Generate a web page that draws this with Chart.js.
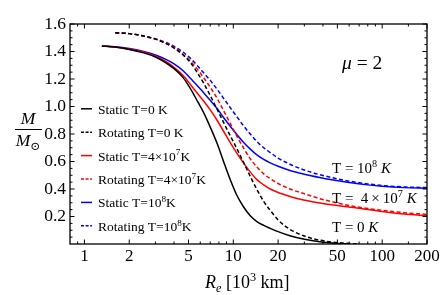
<!DOCTYPE html>
<html>
<head>
<meta charset="utf-8">
<script src="https://cdn.jsdelivr.net/npm/chart.js@4.4.1/dist/chart.umd.min.js"></script>
<style>
html,body{margin:0;padding:0;background:#fff;}
#wrap{width:443px;height:295px;position:relative;}
</style>
</head>
<body>
<div id="wrap"><canvas id="c" width="443" height="295"></canvas></div>
<script>
// ---- data ----
const xTicks = [1, 2, 5, 10, 20, 50, 100, 200];
const xMinorTicks = [0.9, 3, 4, 6, 7, 8, 9, 30, 40, 60, 70, 80, 90, 150];
const yTicks = [0.2, 0.4, 0.6, 0.8, 1.0, 1.2, 1.4, 1.6];
const yMinorTicks = [0.05,0.1,0.15,0.25,0.3,0.35,0.45,0.5,0.55,0.65,0.7,0.75,0.85,0.9,0.95,1.05,1.1,1.15,1.25,1.3,1.35,1.45,1.5,1.55];

const seriesLabels = ["Static T=0 K", "Rotating T=0 K", "Static T=4×10^7K", "Rotating T=4×10^7K", "Static T=10^8K", "Rotating T=10^8K"];

const rStaticT0 = [1.31,1.6,2,2.5,3,3.5,4,4.6,5.15,5.7,6.32,7,7.78,8.6,9.56,10.5,11.7,13,14.4,16,17.7,20,24,30,38,48,60];
const mStaticT0 = [1.44,1.432,1.415,1.39,1.36,1.32,1.275,1.21,1.13,1.045,0.955,0.85,0.732,0.60,0.465,0.36,0.271,0.205,0.162,0.135,0.114,0.09,0.06,0.035,0.017,0.006,0.0];

const rRotT0 = [1.61,2,2.5,3,3.5,4,4.6,5.15,5.7,6.32,7,7.78,8.6,9.3,10,11,12,13.3,14.5,16,17.7,20,22,25,30,35,42,50,60,70];
const mRotT0 = [1.537,1.53,1.512,1.49,1.46,1.425,1.375,1.32,1.25,1.17,1.08,0.98,0.885,0.81,0.745,0.655,0.57,0.47,0.39,0.31,0.245,0.175,0.135,0.095,0.058,0.036,0.02,0.01,0.004,0.0];

const rStatic4e7 = [1.31,1.6,2,2.5,3,3.5,4,4.6,5.15,5.7,6.32,7,7.78,8.6,9.56,10.5,11.7,13.3,14.4,16,17.7,20,22,26,30.4,38,47,70,100,140,200];
const mStatic4e7 = [1.44,1.432,1.417,1.395,1.365,1.33,1.285,1.225,1.16,1.10,1.04,0.975,0.90,0.82,0.735,0.665,0.59,0.51,0.468,0.43,0.40,0.375,0.36,0.335,0.318,0.298,0.283,0.26,0.236,0.218,0.205];

const rRot4e7 = [1.61,2,2.5,3,3.5,4,4.6,5.15,5.7,6.32,7,7.78,8.6,9.56,10.5,11.7,13,14.4,16,17.7,20,24,30,38,47,60,80,100,140,200];
const mRot4e7 = [1.537,1.53,1.512,1.49,1.462,1.43,1.38,1.33,1.275,1.21,1.14,1.06,0.97,0.875,0.79,0.70,0.62,0.56,0.51,0.475,0.44,0.40,0.365,0.33,0.305,0.28,0.258,0.245,0.228,0.215];

const rStatic1e8 = [1.31,1.6,2,2.5,3,3.5,4,4.6,5.15,5.7,6.32,7,7.78,8.6,9.56,10.5,11.7,13,14.4,16,17.7,20,24,30,38,47,60,80,100,140,200];
const mStatic1e8 = [1.44,1.435,1.422,1.40,1.375,1.345,1.31,1.26,1.205,1.155,1.10,1.045,0.985,0.92,0.855,0.80,0.74,0.69,0.648,0.615,0.59,0.565,0.535,0.508,0.484,0.465,0.447,0.43,0.42,0.41,0.405];

const rRot1e8 = [1.61,2,2.5,3,3.5,4,4.6,5.15,5.7,6.32,7,7.78,8.6,9.56,10.5,11.7,13,14.4,16,17.7,20,24,28,35,45,60,80,100,140,200];
const mRot1e8 = [1.537,1.53,1.513,1.492,1.467,1.437,1.395,1.35,1.30,1.245,1.19,1.125,1.06,0.99,0.93,0.86,0.80,0.745,0.70,0.665,0.625,0.58,0.55,0.515,0.485,0.457,0.437,0.425,0.415,0.41];

// curve annotations: [x value, y value (baseline), text]
const annotX = [46, 46, 46];
const annotY = [0.515, 0.298, 0.09];
const annotText = ["T = 10^8 K", "T =  4\u2009×\u200910^7 K", "T = 0 K"];
const muLabel = "μ = 2";

// ---- build ----
const SERIF = "'Liberation Serif', 'DejaVu Serif', serif";
const RED = '#ff0000', BLUE = '#0000ff', BLACK = '#000000';
const DASH = [4, 2.5];
function pts(r, m){ return r.map((v,i)=>({x:v, y:m[i]})); }
function ds(label, r, m, color, dashed){
  return {label, data: pts(r,m), borderColor: color, backgroundColor: color,
    borderWidth: 1.5, borderDash: dashed ? DASH : [], pointRadius: 0,
    cubicInterpolationMode: 'monotone', fill: false};
}
const datasets = [
  ds(seriesLabels[0], rStaticT0, mStaticT0, BLACK, false),
  ds(seriesLabels[1], rRotT0, mRotT0, BLACK, true),
  ds(seriesLabels[2], rStatic4e7, mStatic4e7, RED, false),
  ds(seriesLabels[3], rRot4e7, mRot4e7, RED, true),
  ds(seriesLabels[4], rStatic1e8, mStatic1e8, BLUE, false),
  ds(seriesLabels[5], rRot1e8, mRot1e8, BLUE, true),
];

// rich text: "^x" superscript char, "_x" subscript
function segs(str){
  const out = [];
  let buf = '';
  for (let i=0;i<str.length;i++){
    const c = str[i];
    if ((c==='^'||c==='_') && i+1<str.length){
      if (buf){ out.push({t:buf}); buf=''; }
      out.push({t:str[i+1], sup: c==='^', sub: c==='_'});
      i++;
    } else buf += c;
  }
  if (buf) out.push({t:buf});
  return out;
}
function drawRich(ctx, parts, x, y, size, align, italicChars){
  italicChars = italicChars || '';
  const pieces = [];
  parts.forEach(p=>{
    let cur='';
    for (const ch of p.t){
      const it = italicChars.indexOf(ch) >= 0;
      if (it){ if(cur){pieces.push(Object.assign({}, p, {t:cur})); cur='';}
        pieces.push(Object.assign({}, p, {t:ch, it:true})); }
      else cur += ch;
    }
    if (cur) pieces.push(Object.assign({}, p, {t:cur}));
  });
  function fontFor(p){
    const s = (p.sup||p.sub) ? size*0.68 : size;
    return (p.it ? 'italic ' : '') + s + 'px ' + SERIF;
  }
  let w = 0;
  pieces.forEach(p=>{ ctx.font = fontFor(p); p.w = ctx.measureText(p.t).width; w += p.w; });
  let cx = align==='center' ? x - w/2 : (align==='right' ? x - w : x);
  ctx.textAlign = 'left';
  ctx.textBaseline = 'alphabetic';
  pieces.forEach(p=>{
    ctx.font = fontFor(p);
    let dy = 0;
    if (p.sup) dy = -size*0.38;
    if (p.sub) dy = size*0.22;
    ctx.fillText(p.t, cx, y+dy);
    cx += p.w;
  });
  return w;
}

const decor = {
  id: 'decor',
  afterDraw(chart){
    const ctx = chart.ctx, a = chart.chartArea;
    const xs = chart.scales.x, ys = chart.scales.y;
    ctx.save();
    ctx.strokeStyle = '#000'; ctx.fillStyle = '#000';
    ctx.lineWidth = 1.3;
    ctx.strokeRect(a.left, a.top, a.right-a.left, a.bottom-a.top);
    ctx.lineWidth = 1;
    function tx(v, len){
      const p = xs.getPixelForValue(v);
      if (p < a.left || p > a.right) return;
      ctx.beginPath();
      ctx.moveTo(p, a.bottom); ctx.lineTo(p, a.bottom-len);
      ctx.moveTo(p, a.top); ctx.lineTo(p, a.top+len);
      ctx.stroke();
    }
    function ty(v, len){
      const p = ys.getPixelForValue(v);
      ctx.beginPath();
      ctx.moveTo(a.left, p); ctx.lineTo(a.left+len, p);
      ctx.moveTo(a.right, p); ctx.lineTo(a.right-len, p);
      ctx.stroke();
    }
    xTicks.forEach(v=>tx(v,4.5)); xMinorTicks.forEach(v=>tx(v,2.5));
    yTicks.forEach(v=>ty(v,4.5)); yMinorTicks.forEach(v=>ty(v,2.5));

    // legend
    chart.data.datasets.forEach((d,i)=>{
      const ly = 108.8 + i*23.4;
      ctx.strokeStyle = d.borderColor; ctx.lineWidth = 1.5;
      ctx.setLineDash(d.borderDash && d.borderDash.length ? [3,1.6] : []);
      ctx.beginPath(); ctx.moveTo(81, ly); ctx.lineTo(92, ly); ctx.stroke();
      ctx.setLineDash([]);
      ctx.fillStyle = '#000';
      drawRich(ctx, segs(d.label), 98, ly+5, 13.5, 'left');
    });

    // curve labels
    ctx.fillStyle = '#000';
    annotText.forEach((t,i)=>{
      drawRich(ctx, segs(t), xs.getPixelForValue(annotX[i]), ys.getPixelForValue(annotY[i]), 15, 'left', 'K');
    });
    // mu label
    drawRich(ctx, [{t:muLabel}], 342, 69, 19.5, 'left', 'μ');

    // y-axis title: M / M_sun
    drawRich(ctx, [{t:'M'}], 28, 124, 17.5, 'center', 'M');
    ctx.lineWidth = 1; ctx.strokeStyle = '#000';
    ctx.beginPath(); ctx.moveTo(15, 129.5); ctx.lineTo(42, 129.5); ctx.stroke();
    drawRich(ctx, [{t:'M'},{t:'⊙', sub:true}], 28, 146, 17.5, 'center', 'M');

    // x-axis title
    drawRich(ctx, [{t:'R'},{t:'e', sub:true},{t:' [10'},{t:'3', sup:true},{t:' km]'}], 205, 288, 18, 'left', 'Re');
    ctx.restore();
  }
};

new Chart(document.getElementById('c'), {
  type: 'line',
  data: { datasets },
  options: {
    responsive: false,
    animation: false,
    layout: { padding: { top: 24, right: 16, left: 0, bottom: 0 } },
    plugins: { legend: { display: false }, tooltip: { enabled: false }, title: { display: false } },
    scales: {
      x: {
        type: 'logarithmic', min: 0.8, max: 200,
        afterBuildTicks: s => { s.ticks = xTicks.map(v => ({ value: v })); },
        afterFit: s => { s.height = 51; },
        grid: { display: false, drawTicks: false }, border: { display: false },
        ticks: { autoSkip: false, maxRotation: 0, minRotation: 0, padding: 2, color: '#000',
          font: { family: SERIF, size: 17 }, callback: v => String(v) }
      },
      y: {
        type: 'linear', min: 0, max: 1.6,
        afterBuildTicks: s => { s.ticks = yTicks.map(v => ({ value: v })); },
        afterFit: s => { s.width = 70; },
        grid: { display: false, drawTicks: false }, border: { display: false },
        ticks: { padding: 4, color: '#000', font: { family: SERIF, size: 17.5 },
          callback: v => Number(v).toFixed(1) }
      }
    }
  },
  plugins: [decor]
});
</script>
</body>
</html>
